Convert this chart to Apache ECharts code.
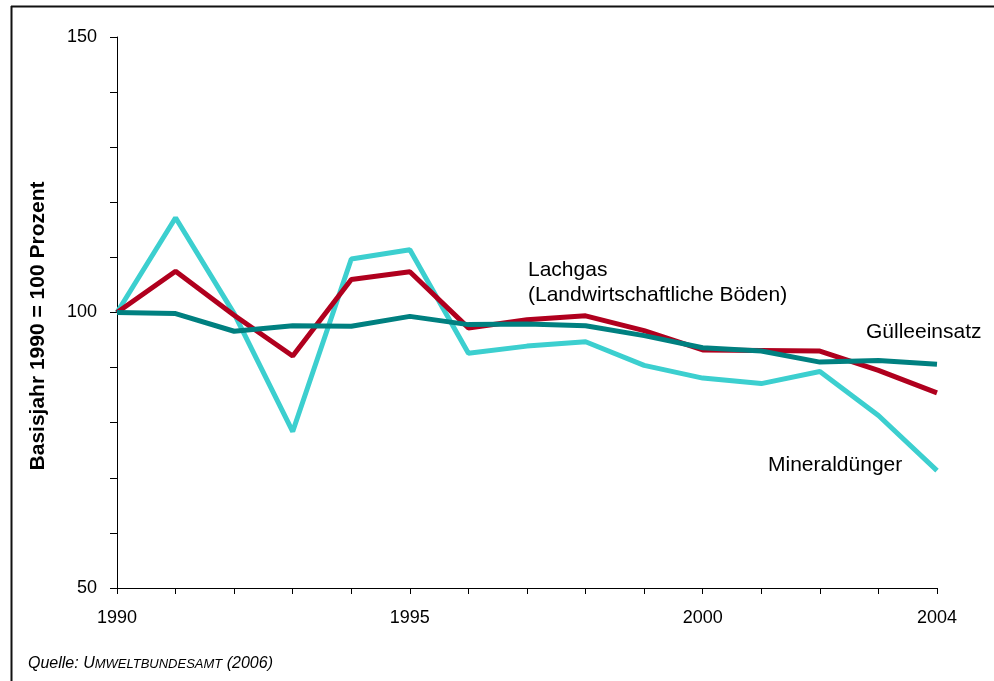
<!DOCTYPE html>
<html>
<head>
<meta charset="utf-8">
<script src="https://cdn.jsdelivr.net/npm/echarts@6/dist/echarts.min.js"></script>
<style>
  html, body { margin: 0; padding: 0; background: #fff; }
  #chart { width: 994px; height: 681px; }
</style>
</head>
<body>
<div id="chart"></div>
<script>
// Emissionsentwicklung Landwirtschaft, Index 1990 = 100
const years = [1990, 1991, 1992, 1993, 1994, 1995, 1996, 1997, 1998, 1999, 2000, 2001, 2002, 2003, 2004];
const mineralduenger = [100, 117.2, 99.8, 78.4, 109.7, 111.4, 92.6, 93.9, 94.7, 90.4, 88.1, 87.1, 89.3, 81.3, 71.3];
const lachgas = [100, 107.5, 99.5, 92.1, 106.0, 107.4, 97.2, 98.7, 99.4, 96.7, 93.2, 93.1, 93.0, 89.5, 85.4];
const guelleeinsatz = [100, 99.8, 96.6, 97.6, 97.5, 99.3, 97.8, 97.9, 97.6, 95.8, 93.6, 93.0, 91.0, 91.3, 90.6];
const yTickLabels = [50, 100, 150];
const xTickLabels = [1990, 1995, 2000, 2004];

const pairs = (vals) => years.map((y, i) => [y, vals[i]]);
const font = 'Arial, "Liberation Sans", Helvetica, sans-serif';

const chart = echarts.init(document.getElementById('chart'), null, { renderer: 'canvas' });

chart.setOption({
  backgroundColor: '#ffffff',
  animation: false,
  grid: { left: 117, right: 57, top: 37, bottom: 93 },
  xAxis: {
    type: 'value',
    min: 1990,
    max: 2004,
    interval: 1,
    axisLine: { show: true, lineStyle: { color: '#000', width: 1 } },
    axisTick: { show: true, inside: false, length: 6, lineStyle: { color: '#000' } },
    splitLine: { show: false },
    axisLabel: {
      margin: 21,
      color: '#000',
      fontFamily: font,
      fontSize: 18,
      showMinLabel: true,
      showMaxLabel: true,
      formatter: (v) => xTickLabels.includes(v) ? String(v) : ''
    }
  },
  yAxis: {
    type: 'value',
    min: 50,
    max: 150,
    interval: 10,
    axisLine: { show: true, lineStyle: { color: '#000', width: 1 } },
    axisTick: { show: true, inside: false, length: 7, lineStyle: { color: '#000' } },
    splitLine: { show: false },
    axisLabel: {
      margin: 20,
      color: '#000',
      fontFamily: font,
      fontSize: 18,
      padding: [5, 0, 0, 0],
      formatter: (v) => yTickLabels.includes(v) ? String(v) : ''
    }
  },
  series: [
    {
      name: 'Mineraldünger',
      type: 'line',
      data: pairs(mineralduenger),
      showSymbol: false,
      lineStyle: { color: '#3ccfcf', width: 5 },
      itemStyle: { color: '#3ccfcf' },
      z: 2
    },
    {
      name: 'Lachgas',
      type: 'line',
      data: pairs(lachgas),
      showSymbol: false,
      lineStyle: { color: '#b0001e', width: 5 },
      itemStyle: { color: '#b0001e' },
      z: 3
    },
    {
      name: 'Gülleeinsatz',
      type: 'line',
      data: pairs(guelleeinsatz),
      showSymbol: false,
      lineStyle: { color: '#008080', width: 5 },
      itemStyle: { color: '#008080' },
      z: 4
    }
  ],
  graphic: [
    // Rahmen oben und links
    { type: 'line', shape: { x1: 11, y1: 6.5, x2: 994, y2: 6.5 }, style: { stroke: '#111', lineWidth: 2 } },
    { type: 'line', shape: { x1: 11.5, y1: 6, x2: 11.5, y2: 681 }, style: { stroke: '#111', lineWidth: 2 } },
    // Achsentitel (senkrecht)
    {
      type: 'text', x: 38, y: 326, rotation: Math.PI / 2,
      style: {
        text: 'Basisjahr 1990 = 100 Prozent', fill: '#000',
        font: 'bold 21px ' + font, align: 'center', verticalAlign: 'middle'
      }
    },
    // Beschriftungen der Kurven
    { type: 'text', left: 528, top: 258, style: { text: 'Lachgas\n(Landwirtschaftliche Böden)', fill: '#000', font: '21px ' + font, lineHeight: 25 } },
    { type: 'text', left: 866, top: 322, style: { text: 'Gülleeinsatz', fill: '#000', font: '21px ' + font } },
    { type: 'text', left: 768, top: 455, style: { text: 'Mineraldünger', fill: '#000', font: '21px ' + font } },
    // Quellenangabe
    {
      type: 'text', left: 28, top: 656,
      style: {
        text: '{a|Quelle: U}{b|MWELTBUNDESAMT}{a| (2006)}',
        rich: {
          a: { fontFamily: font, fontStyle: 'italic', fontSize: 16, fill: '#000' },
          b: { fontFamily: font, fontStyle: 'italic', fontSize: 13, fill: '#000' }
        }
      }
    }
  ]
});
</script>
</body>
</html>
